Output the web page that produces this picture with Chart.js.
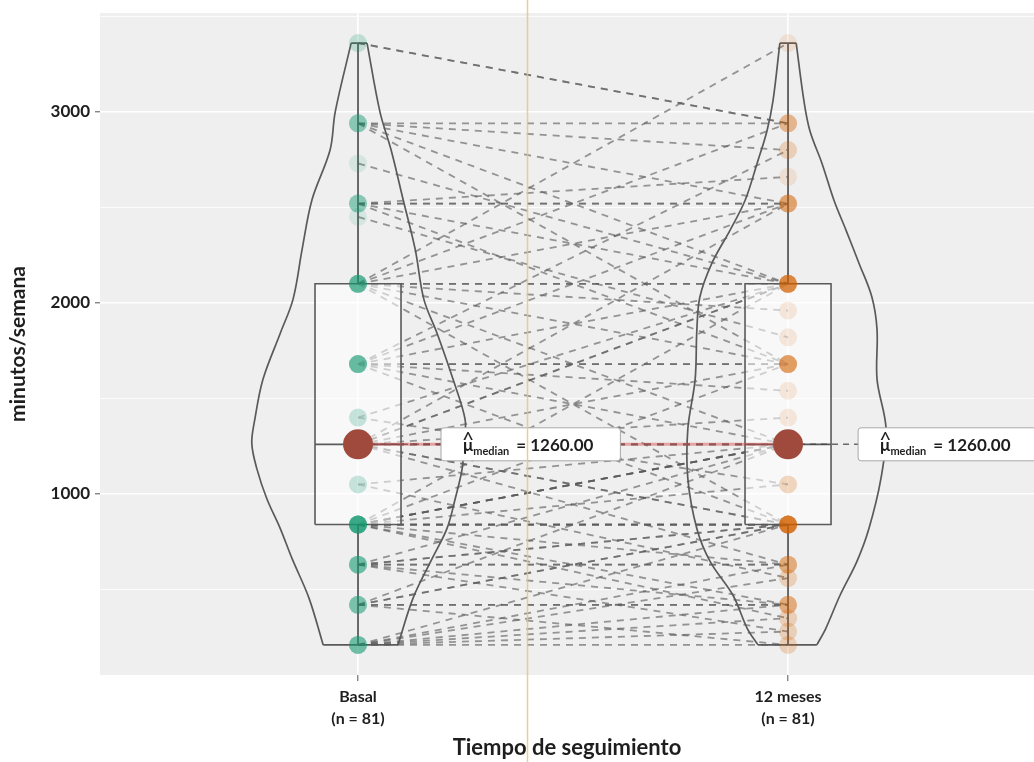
<!DOCTYPE html>
<html>
<head>
<meta charset="utf-8">
<script src="https://cdn.jsdelivr.net/npm/chart.js@4.4.1/dist/chart.umd.min.js"></script>
<style>
  body { margin: 0; background: #fff; }
  canvas { display: block; }
</style>
</head>
<body>
<canvas id="chart" width="1034" height="762"></canvas>
<script>
// categories on the x axis and their sample sizes
const categories = ['Basal', '12 meses'];
const sampleSizes = [81, 81];

// minutes per week, one entry per subject (same index = same subject)
const basal = [
  3360, 3360, 2940, 2940, 2940, 2940, 2940, 2730, 2520, 2520,
  2520, 2520, 2520, 2450, 2100, 2100, 2100, 2100, 2100, 2100,
  2100, 2100, 2100, 1680, 1680, 1680, 1680, 1680, 1680, 1680,
  1680, 1400, 1400, 1260, 1260, 1260, 1260, 1260, 1260, 1260,
  1260, 1260, 1260, 1260, 1260, 1050, 1050, 840, 840, 840,
  840, 840, 840, 840, 840, 840, 840, 840, 840, 840,
  840, 630, 630, 630, 630, 630, 630, 630, 420, 420,
  420, 420, 420, 420, 210, 210, 210, 210, 210, 210, 210
];
const meses12 = [
  2940, 2940, 2940, 2800, 2100, 2520, 1680, 2100, 2520, 2520,
  2660, 2100, 1680, 1820, 3360, 2940, 2100, 2100, 2520, 1680,
  1260, 840, 1960, 2520, 2100, 1680, 1680, 1260, 840, 2800,
  1540, 2100, 1050, 2520, 2100, 2100, 1680, 1260, 1260, 1260,
  840, 840, 630, 1400, 1260, 1260, 560, 2100, 1680, 1260,
  1260, 1260, 840, 840, 840, 630, 420, 350, 1050, 840,
  1260, 1260, 840, 840, 630, 630, 420, 280, 1260, 840,
  840, 420, 420, 210, 840, 630, 560, 420, 350, 280,
  210
];

// violin outlines: y value, left and right half width (x units)
const basalViolinY = [3360, 3000, 2800, 2540, 2280, 2020, 1840, 1600, 1390, 1265, 1130, 975, 820, 660, 455, 210];
const basalViolinL = [0.016, 0.053, 0.065, 0.107, 0.130, 0.151, 0.181, 0.221, 0.240, 0.247, 0.235, 0.212, 0.181, 0.153, 0.114, 0.081];
const basalViolinR = [0.021, 0.051, 0.077, 0.105, 0.133, 0.153, 0.184, 0.221, 0.249, 0.247, 0.242, 0.226, 0.207, 0.172, 0.128, 0.093];
const mesesViolinY = [3360, 3057, 2900, 2730, 2536, 2380, 2208, 2031, 1860, 1600, 1340, 1080, 818, 646, 470, 297, 210];
const mesesViolinL = [0.019, 0.035, 0.049, 0.072, 0.100, 0.135, 0.177, 0.205, 0.212, 0.216, 0.233, 0.233, 0.212, 0.181, 0.128, 0.095, 0.070];
const mesesViolinR = [0.019, 0.037, 0.051, 0.079, 0.107, 0.135, 0.165, 0.195, 0.207, 0.207, 0.228, 0.216, 0.188, 0.160, 0.121, 0.088, 0.067];

// axis ticks
const yTicks = [1000, 2000, 3000];
const yGrid = [500, 1000, 1500, 2000, 2500, 3000, 3500];

// where the median labels start (x units)
const medianLabelX = [1.193, 2.163];
// the thin orange guide that crosses the picture
const guideLineX = 1.393;

const groupColors = ['rgba(27,158,119,0.12)', 'rgba(217,95,2,0.12)'];
const outline = '#5a5a5a';

function quantile(values, p) {
  const s = values.slice().sort((a, b) => a - b);
  const pos = (s.length - 1) * p;
  const lo = Math.floor(pos);
  const hi = Math.ceil(pos);
  return s[lo] + (s[hi] - s[lo]) * (pos - lo);
}

function boxStats(values) {
  return {
    min: Math.min(...values),
    q1: quantile(values, 0.25),
    med: quantile(values, 0.5),
    q3: quantile(values, 0.75),
    max: Math.max(...values)
  };
}

const groups = [basal, meses12];
const stats = groups.map(boxStats);
const violins = [
  [basalViolinY, basalViolinL, basalViolinR],
  [mesesViolinY, mesesViolinL, mesesViolinR]
];

var datasets = [];

// paired dashed lines
for (let i = 0; i < basal.length; i++) {
  datasets.push({
    type: 'line',
    data: [{ x: 1, y: basal[i] }, { x: 2, y: meses12[i] }],
    borderColor: 'rgba(90,90,90,0.62)',
    borderWidth: 1.8,
    borderDash: [7, 6],
    pointRadius: 0,
    order: 100
  });
}

violins.forEach((v, g) => {
  const c = g + 1;
  const ys = v[0], wl = v[1], wr = v[2];
  const last = ys.length - 1;
  datasets.push({
    type: 'line',
    data: ys.map((y, i) => ({ x: c - wl[i], y: y })),
    borderColor: outline, borderWidth: 1.7, tension: 0.35, pointRadius: 0, order: 90
  });
  datasets.push({
    type: 'line',
    data: ys.map((y, i) => ({ x: c + wr[i], y: y })),
    borderColor: outline, borderWidth: 1.7, tension: 0.35, pointRadius: 0, order: 90
  });
  datasets.push({
    type: 'line',
    data: [
      { x: c - wl[0], y: ys[0] }, { x: c + wr[0], y: ys[0] }, { x: c, y: null },
      { x: c - wl[last], y: ys[last] }, { x: c + wr[last], y: ys[last] }
    ],
    borderColor: outline, borderWidth: 1.7, pointRadius: 0, order: 90
  });
});

// boxes, whiskers and box medians
stats.forEach((s, g) => {
  const c = g + 1;
  datasets.push({
    type: 'line',
    data: [
      { x: c - 0.1, y: s.q1 }, { x: c + 0.1, y: s.q1 }, { x: c + 0.1, y: s.q3 },
      { x: c - 0.1, y: s.q3 }, { x: c - 0.1, y: s.q1 }
    ],
    borderColor: outline, borderWidth: 1.6, backgroundColor: 'rgba(255,255,255,0.55)',
    fill: 'shape', pointRadius: 0, order: 80
  });
  datasets.push({
    type: 'line',
    data: [
      { x: c, y: s.q3 }, { x: c, y: s.max }, { x: c, y: null },
      { x: c, y: s.q1 }, { x: c, y: s.min }, { x: c, y: null },
      { x: c - 0.1, y: s.med }, { x: c + 0.1, y: s.med }
    ],
    borderColor: outline, borderWidth: 1.8, pointRadius: 0, order: 75
  });
});

// individual observations
groups.forEach((vals, g) => {
  datasets.push({
    type: 'scatter',
    data: vals.map(v => ({ x: g + 1, y: v })),
    pointRadius: 9,
    pointBackgroundColor: groupColors[g],
    pointBorderWidth: 0,
    order: 70
  });
});

// dashed connectors to the labels
stats.forEach((s, g) => {
  datasets.push({
    type: 'line',
    data: [{ x: g + 1, y: s.med }, { x: medianLabelX[g], y: s.med }],
    borderColor: 'rgba(70,70,70,0.8)', borderWidth: 1.5, borderDash: [6, 5],
    pointRadius: 0, order: 65
  });
});

// line joining the medians
datasets.push({
  type: 'line',
  data: stats.map((s, g) => ({ x: g + 1, y: s.med })),
  borderColor: 'rgba(215,70,70,0.45)',
  borderWidth: 3,
  pointRadius: 0,
  order: 60
});

datasets.push({
  type: 'scatter',
  data: stats.map((s, g) => ({ x: g + 1, y: s.med })),
  pointRadius: 15,
  pointBackgroundColor: '#a04a3d',
  pointBorderWidth: 0,
  order: 50
});

const panelBackground = {
  id: 'panelBackground',
  beforeDraw(chart) {
    const { ctx, chartArea: a } = chart;
    ctx.save();
    ctx.fillStyle = '#efefef';
    ctx.fillRect(a.left, a.top, a.right - a.left, a.bottom - a.top);
    ctx.restore();
  }
};

const medianLabels = {
  id: 'medianLabels',
  afterDatasetsDraw(chart) {
    const { ctx, scales } = chart;
    ctx.save();
    stats.forEach((s, g) => {
      const x0 = scales.x.getPixelForValue(medianLabelX[g]);
      const yc = scales.y.getPixelForValue(s.med);
      const value = '= ' + s.med.toFixed(2);
      const big = 'bold 17px Lato';
      const small = 'bold 11px Lato';
      const hat = '21px Lato';
      ctx.font = big;
      const muW = ctx.measureText('\u03bc').width;
      const valW = ctx.measureText(value).width;
      ctx.font = small;
      const subW = ctx.measureText('median').width;
      ctx.font = hat;
      const hatW = ctx.measureText('^').width;
      const w = 22 + muW + subW + 7 + valW + 27;
      const h = 33;
      const top = yc - h / 2;

      ctx.beginPath();
      ctx.roundRect(x0, top, w, h, 3);
      ctx.fillStyle = '#ffffff';
      ctx.fill();
      ctx.strokeStyle = '#a8a8a8';
      ctx.lineWidth = 1;
      ctx.stroke();

      const base = yc + 7;
      let x = x0 + 22;
      ctx.fillStyle = '#1e1e1e';
      ctx.textBaseline = 'alphabetic';
      ctx.textAlign = 'left';
      ctx.font = big;
      ctx.fillText('\u03bc', x, base);
      ctx.font = hat;
      ctx.fillText('^', x + muW / 2 - hatW / 2, base - 4);
      x += muW;
      ctx.font = small;
      ctx.fillText('median', x, base + 4);
      x += subW + 7;
      ctx.font = big;
      ctx.fillText(value, x, base);
    });
    ctx.restore();
  }
};

const guideLine = {
  id: 'guideLine',
  afterDraw(chart) {
    const { ctx, scales } = chart;
    const x = Math.round(scales.x.getPixelForValue(guideLineX)) + 0.5;
    ctx.save();
    ctx.strokeStyle = 'rgba(244,190,135,0.85)';
    ctx.lineWidth = 1.5;
    ctx.beginPath();
    ctx.moveTo(x, 0);
    ctx.lineTo(x, chart.height);
    ctx.stroke();
    ctx.restore();
  }
};

new Chart(document.getElementById('chart'), {
  type: 'scatter',
  data: { datasets: datasets },
  options: {
    responsive: false,
    animation: false,
    layout: { autoPadding: false, padding: { top: 13, left: 0, right: 0, bottom: 0 } },
    plugins: { legend: { display: false }, tooltip: { enabled: false } },
    scales: {
      x: {
        type: 'linear',
        min: 0.4,
        max: 2.572,
        afterBuildTicks: axis => { axis.ticks = categories.map((c, i) => ({ value: i + 1 })); },
        afterFit: axis => {
          axis.height = 87;
          axis.paddingLeft = 0;
          axis.paddingRight = 0;
        },
        border: { display: false },
        grid: { color: '#ffffff', lineWidth: 1.6, tickColor: '#555', tickWidth: 1, tickLength: 6 },
        ticks: {
          autoSkip: false,
          maxRotation: 0,
          padding: 5,
          color: '#1e1e1e',
          font: { family: 'Lato', size: 16, weight: 'bold', lineHeight: 1.35 },
          callback: v => [categories[v - 1], '(n = ' + sampleSizes[v - 1] + ')']
        },
        title: {
          display: true,
          text: 'Tiempo de seguimiento',
          color: '#1e1e1e',
          font: { family: 'Lato', size: 22, weight: 'bold' },
          padding: { top: 0, bottom: 1 }
        }
      },
      y: {
        min: 52.5,
        max: 3517.5,
        afterBuildTicks: axis => { axis.ticks = yGrid.map(v => ({ value: v })); },
        afterFit: axis => {
          axis.width = 100;
          axis.paddingTop = 0;
          axis.paddingBottom = 0;
        },
        border: { display: false },
        grid: {
          color: '#ffffff',
          lineWidth: c => yTicks.includes(c.tick.value) ? 1.6 : 0.8,
          tickColor: c => yTicks.includes(c.tick.value) ? '#555' : 'rgba(0,0,0,0)',
          tickWidth: 1,
          tickLength: 5
        },
        ticks: {
          autoSkip: false,
          padding: 5,
          color: '#1e1e1e',
          font: { family: 'Lato', size: 17, weight: 'bold' },
          callback: v => yTicks.includes(v) ? String(v) : ''
        },
        title: {
          display: true,
          text: 'minutos/semana',
          color: '#1e1e1e',
          font: { family: 'Lato', size: 21, weight: 'bold' },
          padding: { top: 6, bottom: 0 }
        }
      }
    }
  },
  plugins: [panelBackground, medianLabels, guideLine]
});
</script>
</body>
</html>
